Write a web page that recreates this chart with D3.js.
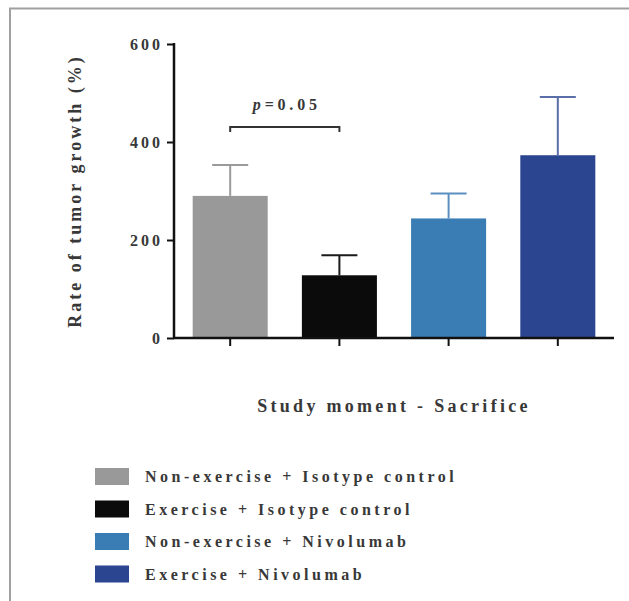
<!DOCTYPE html>
<html><head><meta charset="utf-8">
<script src="https://cdn.jsdelivr.net/npm/d3@7"></script>
<style>
html,body{margin:0;padding:0;background:#fff;}
svg{display:block;}
text{font-family:"Liberation Serif","Times New Roman",serif;font-weight:bold;fill:#383838;}
</style></head>
<body>
<svg id="chart" width="629" height="601"></svg>
<script>
const categories = ["Non-exercise + Isotype control","Exercise + Isotype control","Non-exercise + Nivolumab","Exercise + Nivolumab"];
const means = [290, 128, 244, 373];
const errors = [63, 41, 51, 119];
const barColors = ["#999999","#0b0b0b","#3a7cb4","#2b4590"];
const errColors = ["#9a9a9a","#1a1a1a","#5b8fc0","#5a6ea8"];
const yTicks = [0, 200, 400, 600];
const yLabel = "Rate of tumor growth (%)";
const xLabel = "Study moment - Sacrifice";
const pLabel = "0.05";

const svg = d3.select("#chart");

// frame
svg.append("path").attr("d","M10,601 V8.5 H629").attr("fill","none").attr("stroke","#a0a0a0").attr("stroke-width",2);

const x = d3.scaleBand().domain(categories).range([174, 614]).paddingInner(0.313).paddingOuter(0.171);
const y = d3.scaleLinear().domain([0, 600]).range([338, 44]);

// bars
svg.selectAll("rect.bar").data(categories).join("rect")
  .attr("class","bar")
  .attr("x", d => x(d)).attr("width", x.bandwidth())
  .attr("y", (d,i) => y(means[i])).attr("height", (d,i) => y(0) - y(means[i]))
  .attr("fill", (d,i) => barColors[i]);

// error bars
const cap = 18;
categories.forEach((c,i) => {
  const cx = x(c) + x.bandwidth()/2;
  const g = svg.append("g").attr("stroke", errColors[i]).attr("stroke-width", 2);
  g.append("line").attr("x1",cx).attr("x2",cx).attr("y1",y(means[i])).attr("y2",y(means[i]+errors[i]));
  g.append("line").attr("x1",cx-cap).attr("x2",cx+cap).attr("y1",y(means[i]+errors[i])).attr("y2",y(means[i]+errors[i]));
});

// y axis
const yAxis = d3.axisLeft(y).tickValues(yTicks).tickSize(7).tickPadding(4).tickFormat(d3.format("d"));
const gy = svg.append("g").attr("transform","translate(174,0)").call(yAxis);
gy.select(".domain").attr("stroke","#111").attr("stroke-width",2.5).attr("d","M0,43V339");
gy.selectAll(".tick line").attr("stroke","#111").attr("stroke-width",2);
gy.selectAll(".tick text").attr("font-size",16).attr("letter-spacing",3).attr("fill","#383838")
  .style("font-family","'Liberation Serif',serif").style("font-weight","bold").attr("dy","0.35em");

// x axis
const xAxis = d3.axisBottom(x).tickSize(8).tickFormat("");
const gx = svg.append("g").attr("transform","translate(0,338)").call(xAxis);
gx.select(".domain").attr("stroke","#111").attr("stroke-width",2.5).attr("d","M173,0H614");
gx.selectAll(".tick line").attr("stroke","#111").attr("stroke-width",2);

// significance bracket
const x1 = x(categories[0]) + x.bandwidth()/2, x2 = x(categories[1]) + x.bandwidth()/2;
const by = 127;
svg.append("path").attr("d",`M${x1},${by+5}V${by}H${x2}V${by+5}`).attr("fill","none").attr("stroke","#333").attr("stroke-width",2);
const pt = svg.append("text").attr("x",(x1+x2)/2 + 2).attr("y",110).attr("text-anchor","middle").attr("font-size",16).attr("letter-spacing",3.8);
pt.append("tspan").attr("font-style","italic").text("p");
pt.append("tspan").text("=" + pLabel);

// y label
svg.append("text").attr("transform","translate(81,191) rotate(-90)").attr("text-anchor","middle")
  .attr("font-size",18).attr("letter-spacing",3).text(yLabel);

// x label
svg.append("text").attr("x",394).attr("y",412).attr("text-anchor","middle")
  .attr("font-size",18).attr("letter-spacing",3.3).text(xLabel);

// legend
const lg = svg.append("g");
categories.forEach((c,i) => {
  const ly = 468 + i*32.5;
  lg.append("rect").attr("x",95).attr("y",ly).attr("width",34).attr("height",17).attr("fill",barColors[i]);
  lg.append("text").attr("x",145).attr("y",ly+14).attr("font-size",16).attr("letter-spacing",3.5).text(c);
});
</script>
</body></html>
